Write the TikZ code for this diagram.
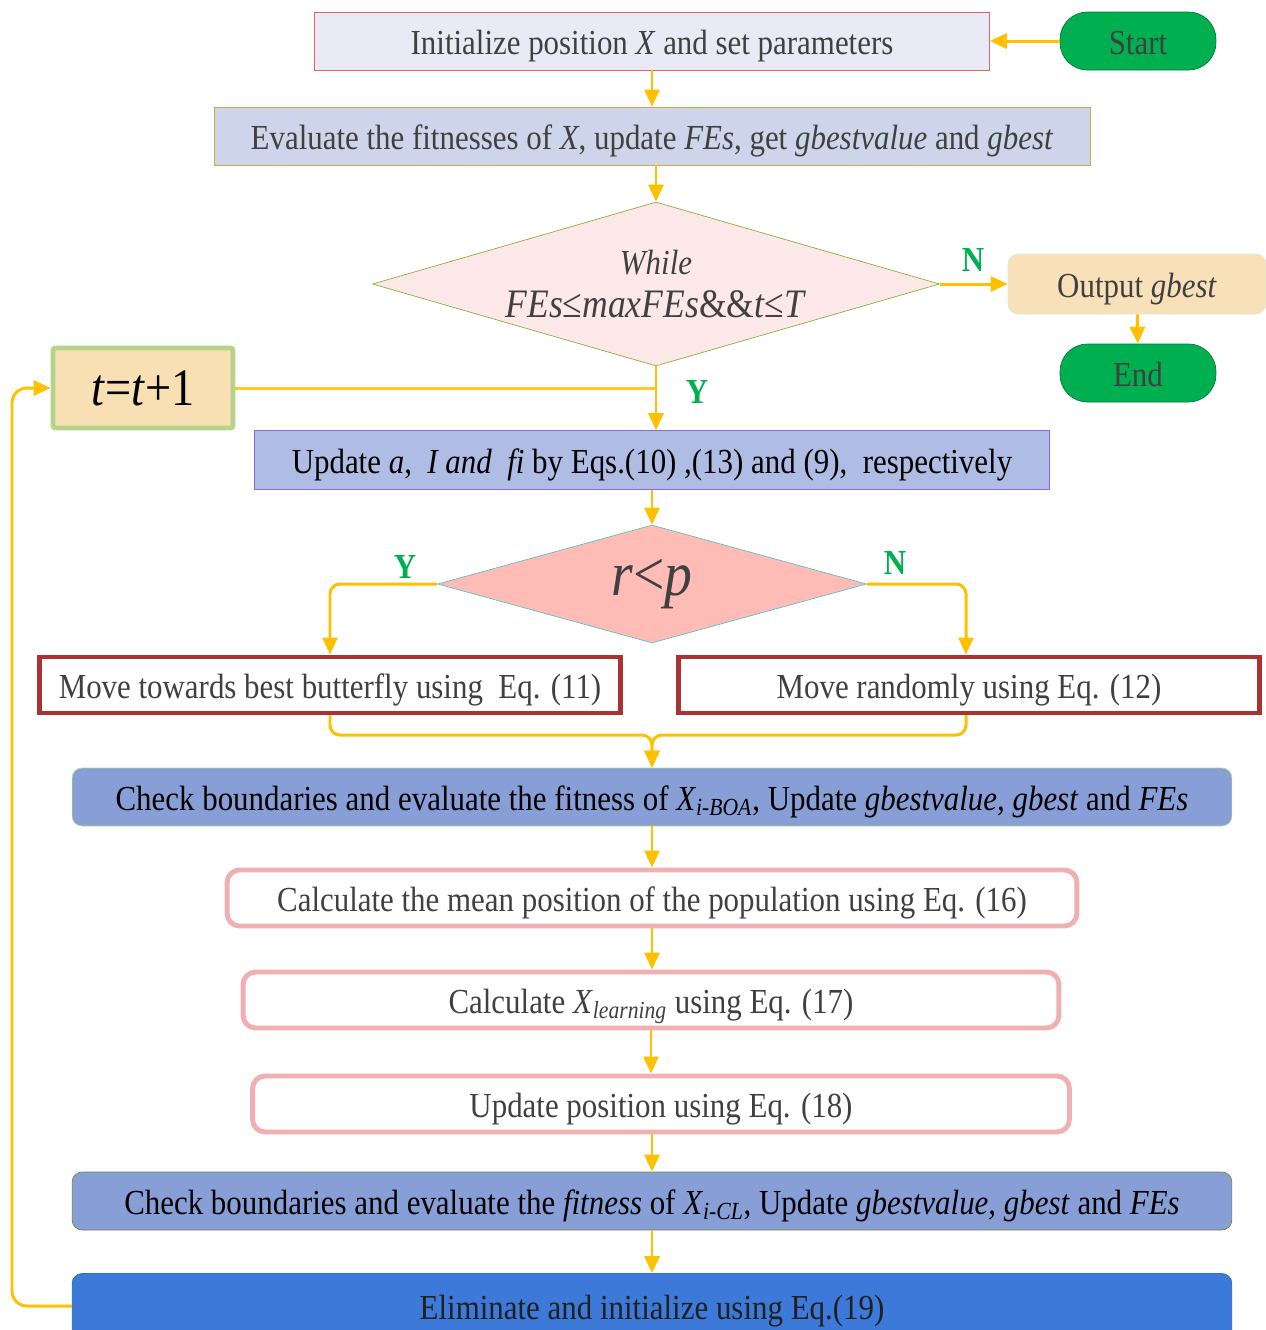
\documentclass[tikz,border=0pt]{standalone}
\usepackage{fontspec}
\setmainfont{Liberation Serif}[FakeStretch=0.88]
\usepackage{tikz}
\usetikzlibrary{shapes.geometric,arrows.meta,calc}
\definecolor{flowyellow}{HTML}{FFC000}
\definecolor{txtgray}{HTML}{404040}
\definecolor{okgreen}{HTML}{00B050}
\definecolor{initfill}{HTML}{E9EAF5}
\definecolor{initdraw}{HTML}{E06666}
\definecolor{evalfill}{HTML}{CED5EA}
\definecolor{evaldraw}{HTML}{D6A742}
\definecolor{whilefill}{HTML}{FCE8E8}
\definecolor{whiledraw}{HTML}{8DAF3E}
\definecolor{outfill}{HTML}{F8E1B9}
\definecolor{outdraw}{HTML}{DCEBD4}
\definecolor{tincfill}{HTML}{F8E0B4}
\definecolor{tincdraw}{HTML}{B6D38A}
\definecolor{updfill}{HTML}{AFBCE3}
\definecolor{upddraw}{HTML}{9163E3}
\definecolor{rpfill}{HTML}{FFBCB6}
\definecolor{rpdraw}{HTML}{5CC2BE}
\definecolor{movedraw}{HTML}{A83234}
\definecolor{checkfill}{HTML}{879ED6}
\definecolor{checkdraw}{HTML}{B8D98C}
\definecolor{checkdrawb}{HTML}{6F8C3A}
\definecolor{pinkdraw}{HTML}{F0B0B2}
\definecolor{elimfill}{HTML}{3C79D8}
\definecolor{elimdraw}{HTML}{2A7AB8}
\definecolor{elimtext}{HTML}{202020}
\tikzset{box/.style={draw, rectangle, inner sep=0pt, text=txtgray, font=\fontsize{20}{23}\selectfont, text height=0.58cm, text depth=0.04cm}}
\tikzset{freetext/.style={text height=, text depth=}}
\tikzset{pill/.style={box, rounded corners=0.55cm, fill=okgreen, draw=okgreen!70!black, minimum width=3.12cm, minimum height=1.16cm}}
\tikzset{pinkbox/.style={box, rounded corners=0.25cm, fill=white, draw=pinkdraw, line width=2.8pt, minimum height=1.12cm}}
\tikzset{flow/.style={draw=flowyellow, line width=1.7pt, -{Triangle[width=0.3cm,length=0.34cm]}}}
\tikzset{joinline/.style={draw=flowyellow!85!white, line width=1.7pt}}
\tikzset{yn/.style={text=okgreen, font=\fontsize{20}{23}\selectfont\bfseries}}

\begin{document}
\begin{tikzpicture}[x=0.02cm, y=-0.02cm]
    \useasboundingbox (0,0) rectangle (1266,1330);
    % top part
    \node [box, fill=initfill, draw=initdraw, minimum width=13.5cm, minimum height=1.16cm] (init) at (652,41) {Initialize position \textit{X} and set parameters};
    \node [pill] (start) at (1138,41) {Start};
    \node [box, fill=evalfill, draw=evaldraw, minimum width=17.52cm, minimum height=1.16cm] (eval) at (652,136) {Evaluate the fitnesses of \textit{X}, update \textit{FEs}, get \textit{gbestvalue} and \textit{gbest}};
    \node [box, freetext, shape=diamond, shape aspect=3.4, fill=whilefill, draw=whiledraw, minimum width=11.34cm, minimum height=3.28cm, align=center] (while) at (656,284) {\textit{While}\\[2pt] {\fontsize{23}{25}\selectfont\textit{FEs}≤\textit{maxFEs}\&\&\textit{t}≤\textit{T}}};
    \node [box, rounded corners=0.2cm, fill=outfill, draw=outdraw, minimum width=5.16cm, minimum height=1.2cm] (output) at (1137,284) {Output \textit{gbest}};
    \node [pill] (end) at (1138,373) {End};
    \node [box, freetext, rounded corners=0.05cm, fill=tincfill, draw=tincdraw, line width=2.8pt, minimum width=3.6cm, minimum height=1.6cm, text=black, font=\fontsize{30}{33}\selectfont] (tinc) at (143,388) {\textit{t}=\textit{t}+1};
    \node [box, fill=updfill, draw=upddraw, minimum width=15.9cm, minimum height=1.18cm, text=black] (update) at (652,460) {Update \textit{a},~ \textit{I and~ fi} by Eqs.(10) ,(13) and (9),~ respectively};
    % branch
    \node [box, freetext, shape=diamond, shape aspect=3.6, fill=rpfill, draw=rpdraw, minimum width=8.58cm, minimum height=2.36cm, font=\fontsize{36}{38}\selectfont] (rp) at (652,584) {\textit{r}<\textit{p}};
    \node [box, fill=white, draw=movedraw, line width=2.8pt, minimum width=11.64cm, minimum height=1.12cm] (mvbest) at (330,685) {Move towards best butterfly using~ Eq. (11)};
    \node [box, fill=white, draw=movedraw, line width=2.8pt, minimum width=11.62cm, minimum height=1.12cm] (mvrand) at (969,685) {Move randomly using Eq. (12)};
    % lower part
    \node [box, rounded corners=0.2cm, fill=checkfill, draw=checkdraw, minimum width=23.2cm, minimum height=1.16cm, text=black] (checkboa) at (652,797) {Check boundaries and evaluate the fitness of \textit{X}\textsubscript{\textit{i-BOA}}, Update \textit{gbestvalue, gbest} and \textit{FEs}};
    \node [pinkbox, minimum width=17.0cm] (mean) at (652,898) {Calculate the mean position of the population using Eq. (16)};
    \node [pinkbox, minimum width=16.32cm] (xlearn) at (651,1000) {Calculate \textit{X}\textsubscript{\textit{learning}} using Eq. (17)};
    \node [pinkbox, minimum width=16.34cm] (updpos) at (661,1104) {Update position using Eq. (18)};
    \node [box, rounded corners=0.2cm, fill=checkfill, draw=checkdrawb, minimum width=23.2cm, minimum height=1.16cm, text=black] (checkcl) at (652,1201) {Check boundaries and evaluate the \textit{fitness} of \textit{X}\textsubscript{\textit{i-CL}}, Update \textit{gbestvalue, gbest} and \textit{FEs}};
    \node [box, rounded corners=0.2cm, fill=elimfill, draw=elimdraw, minimum width=23.2cm, minimum height=1.3cm, text=elimtext] (elim) at (652,1306) {Eliminate and initialize using Eq.(19)};
    % connectors
    \draw [flow] (start) -- (init);
    \draw [flow] (init) -- (eval);
    \draw [flow] (eval.south -| while.north) -- (while.north);
    \draw [flow] (while.east) -- (output.west);
    \draw [flow] (output) -- (end);
    \draw [flow] (while.south) -- (while.south |- update.north);
    \draw [joinline] (tinc.east) -- (tinc.east -| while.south);
    \draw [flow] (update.south -| rp.north) -- (rp.north);
    \draw [flow, rounded corners=0.2cm] (rp.west) -| (mvbest.north -| 330,0);
    \draw [flow, rounded corners=0.2cm] (rp.east) -| (mvrand.north -| 966,0);
    \node [yn] at (973,260) {N};
    \node [yn] at (697,392) {Y};
    \node [yn] at (405,567) {Y};
    \node [yn] at (895,563) {N};
    \draw [flow, rounded corners=0.2cm] (mvbest.south) |- (652,735) -- (checkboa.north);
    \draw [flow, rounded corners=0.2cm] (966,715) |- (652,735) -- (checkboa.north);
    \draw [flow] (checkboa) -- (checkboa |- mean.north);
    \draw [flow] (mean) -- (mean |- xlearn.north);
    \draw [flow] (xlearn) -- (xlearn |- updpos.north);
    \draw [flow] (updpos.south -| 652,0) -- (checkcl.north);
    \draw [flow] (checkcl) -- (elim);
    \draw [flow, rounded corners=0.3cm] (elim.west) -| (12,388) -- (tinc.west);
\end{tikzpicture}
\end{document}
